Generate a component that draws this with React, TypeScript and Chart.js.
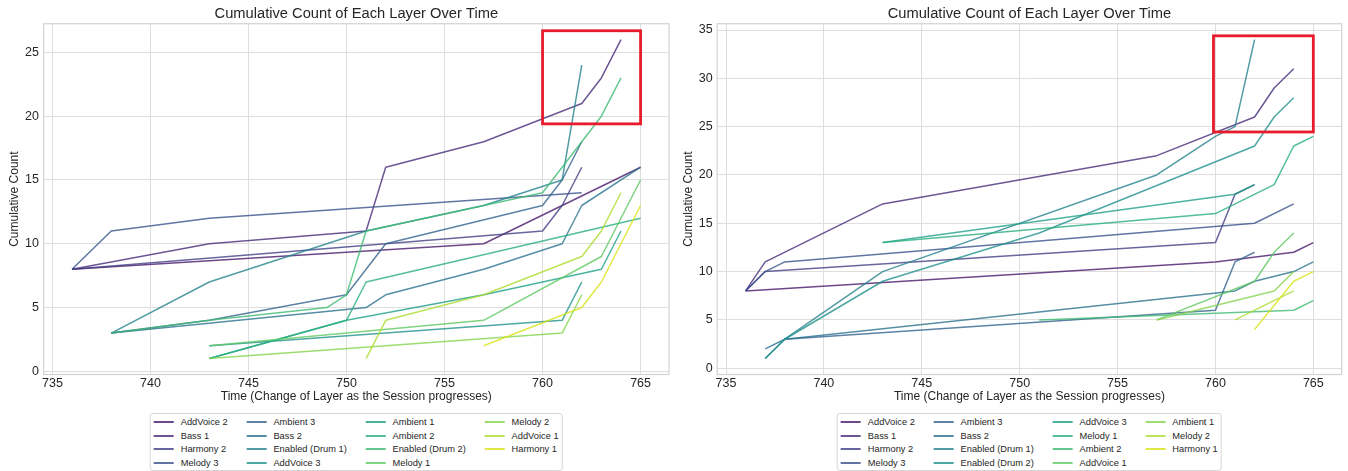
import React, { useEffect, useRef } from "react";
import { Chart, registerables } from "chart.js";

Chart.register(...registerables);

// ---------- text ----------
const TITLE = "Cumulative Count of Each Layer Over Time";
const X_LABEL = "Time (Change of Layer as the Session progresses)";
const Y_LABEL = "Cumulative Count";

// ---------- ticks ----------
const X_TICKS = [735, 740, 745, 750, 755, 760, 765];
const Y_TICKS_LEFT = [0, 5, 10, 15, 20, 25];
const Y_TICKS_RIGHT = [0, 5, 10, 15, 20, 25, 30, 35];

// ---------- left chart: layers (legend order) ----------
const LAYERS_LEFT = [
  "AddVoice 2", "Bass 1", "Harmony 2", "Melody 3",
  "Ambient 3", "Bass 2", "Enabled (Drum 1)", "AddVoice 3",
  "Ambient 1", "Ambient 2", "Enabled (Drum 2)", "Melody 1",
  "Melody 2", "AddVoice 1", "Harmony 1",
];

// [time, cumulative count]
const L_ADDVOICE_2 = [[736, 8], [757, 10], [765, 16]];
const L_BASS_1 = [[736, 8], [743, 10], [751, 11], [752, 16], [757, 18], [762, 21], [763, 23], [764, 26]];
const L_HARMONY_2 = [[736, 8], [760, 11], [761, 13], [762, 16]];
const L_MELODY_3 = [[736, 8], [738, 11], [743, 12], [762, 14]];
const L_AMBIENT_3 = [[738, 3], [743, 4], [750, 6], [752, 10], [760, 13], [761, 15], [762, 18]];
const L_BASS_2 = [[738, 3], [751, 5], [752, 6], [757, 8], [761, 10], [762, 13], [765, 16]];
const L_DRUM_1 = [[738, 3], [743, 7], [751, 11], [757, 13], [761, 15], [762, 24]];
const L_ADDVOICE_3 = [[743, 2], [761, 4], [762, 7]];
const L_AMBIENT_1 = [[743, 1], [750, 4], [757, 6], [763, 8], [764, 11]];
const L_AMBIENT_2 = [[743, 1], [750, 4], [751, 7], [765, 12]];
const L_DRUM_2 = [[738, 3], [743, 4], [749, 5], [750, 6], [751, 11], [757, 13], [760, 14], [762, 18], [763, 20], [764, 23]];
const L_MELODY_1 = [[743, 2], [757, 4], [763, 9], [765, 15]];
const L_MELODY_2 = [[743, 1], [761, 3], [762, 6]];
const L_ADDVOICE_1 = [[751, 1], [752, 4], [757, 6], [762, 9], [763, 11], [764, 14]];
const L_HARMONY_1 = [[757, 2], [762, 5], [763, 7], [765, 13]];

const SERIES_LEFT = [
  L_ADDVOICE_2, L_BASS_1, L_HARMONY_2, L_MELODY_3,
  L_AMBIENT_3, L_BASS_2, L_DRUM_1, L_ADDVOICE_3,
  L_AMBIENT_1, L_AMBIENT_2, L_DRUM_2, L_MELODY_1,
  L_MELODY_2, L_ADDVOICE_1, L_HARMONY_1,
];

// ---------- right chart: layers (legend order) ----------
const LAYERS_RIGHT = [
  "AddVoice 2", "Bass 1", "Harmony 2", "Melody 3",
  "Ambient 3", "Bass 2", "Enabled (Drum 1)", "Enabled (Drum 2)",
  "AddVoice 3", "Melody 1", "Ambient 2", "AddVoice 1",
  "Ambient 1", "Melody 2", "Harmony 1",
];

const R_ADDVOICE_2 = [[736, 8], [760, 11], [764, 12], [765, 13]];
const R_BASS_1 = [[736, 8], [737, 11], [743, 17], [757, 22], [762, 26], [763, 29], [764, 31]];
const R_HARMONY_2 = [[736, 8], [737, 10], [760, 13], [761, 18], [762, 19]];
const R_MELODY_3 = [[736, 8], [737, 10], [738, 11], [762, 15], [764, 17]];
const R_AMBIENT_3 = [[738, 3], [760, 6], [761, 11], [762, 12]];
const R_BASS_2 = [[737, 2], [738, 3], [761, 8], [762, 9], [764, 10], [765, 11]];
const R_DRUM_1 = [[737, 1], [738, 3], [743, 10], [757, 20], [760, 24], [761, 25], [762, 34]];
const R_DRUM_2 = [[737, 1], [738, 3], [743, 9], [751, 14], [762, 23], [763, 26], [764, 28]];
const R_ADDVOICE_3 = [[743, 13], [761, 18], [762, 19]];
const R_MELODY_1 = [[743, 13], [760, 16], [763, 19], [764, 23], [765, 24]];
const R_AMBIENT_2 = [[751, 5], [764, 6], [765, 7]];
const R_ADDVOICE_1 = [[757, 5], [762, 9], [763, 12], [764, 14]];
const R_AMBIENT_1 = [[757, 5], [763, 8], [764, 10]];
const R_MELODY_2 = [[761, 5], [764, 8]];
const R_HARMONY_1 = [[762, 4], [764, 9], [765, 10]];

const SERIES_RIGHT = [
  R_ADDVOICE_2, R_BASS_1, R_HARMONY_2, R_MELODY_3,
  R_AMBIENT_3, R_BASS_2, R_DRUM_1, R_DRUM_2,
  R_ADDVOICE_3, R_MELODY_1, R_AMBIENT_2, R_ADDVOICE_1,
  R_AMBIENT_1, R_MELODY_2, R_HARMONY_1,
];

// highlight boxes [xMin, xMax, yMin, yMax] in data units
const HIGHLIGHT_LEFT = [760, 765, 19.4, 26.7];
const HIGHLIGHT_RIGHT = [759.9, 765, 24.45, 34.4];

// ---------- styles ----------
const VIRIDIS_15 = [
  "72,26,108", "71,45,123", "66,64,134", "59,82,139", "51,99,141",
  "44,114,142", "38,130,142", "33,145,140", "31,160,136", "40,174,128",
  "63,188,115", "94,201,98", "132,212,75", "173,220,48", "216,226,25",
];
const LINE_ALPHA = 0.8;
const FONT = '"Liberation Sans", Arial, Helvetica, sans-serif';
const TEXT = "#262626";
const GRID = "#dedede";
const FRAME = "#d4d4d4";
const RED = "rgb(230, 28, 45)";

function extent(series: number[][][], k: number) {
  let lo = Infinity, hi = -Infinity;
  series.forEach((s) => s.forEach((p) => { lo = Math.min(lo, p[k]); hi = Math.max(hi, p[k]); }));
  const m = (hi - lo) * 0.05;
  return [lo - m, hi + m];
}

const framePlugin = {
  id: "frame",
  beforeDatasetsDraw(chart: any) {
    const { ctx, chartArea: a } = chart;
    ctx.save();
    ctx.strokeStyle = FRAME;
    ctx.lineWidth = 1.25;
    ctx.strokeRect(a.left, a.top, a.right - a.left, a.bottom - a.top);
    ctx.restore();
  },
};

const highlightPlugin = {
  id: "highlight",
  afterDatasetsDraw(chart: any, _args: any, opts: any) {
    const box = opts && opts.box;
    if (!box) return;
    const xs = chart.scales.x, ys = chart.scales.y;
    const x0 = xs.getPixelForValue(box[0]), x1 = xs.getPixelForValue(box[1]);
    const y0 = ys.getPixelForValue(box[3]), y1 = ys.getPixelForValue(box[2]);
    const ctx = chart.ctx;
    ctx.save();
    ctx.strokeStyle = RED;
    ctx.lineWidth = 2.8;
    ctx.lineJoin = "miter";
    ctx.strokeRect(x0, y0, x1 - x0, y1 - y0);
    ctx.restore();
  },
};

type PanelProps = {
  left: number;
  labels: string[];
  series: number[][][];
  yTicks: number[];
  box: number[];
  yAxisWidth: number;
  padRight: number;
};

const CANVAS_W = 674;
const CANVAS_H = 412;

function Panel({ left, labels, series, yTicks, box, yAxisWidth, padRight }: PanelProps) {
  const ref = useRef<HTMLCanvasElement | null>(null);

  useEffect(() => {
    if (!ref.current) return;
    const [xMin, xMax] = extent(series, 0);
    const [yMin, yMax] = extent(series, 1);
    const n = series.length;
    const datasets = series.map((s, i) => ({
      label: labels[i],
      data: s.map((p) => ({ x: p[0], y: p[1] })),
      borderColor: `rgba(${VIRIDIS_15[i]},${LINE_ALPHA})`,
      backgroundColor: `rgba(${VIRIDIS_15[i]},${LINE_ALPHA})`,
      borderWidth: 1.5,
      pointRadius: 0,
      tension: 0,
      fill: false,
      borderJoinStyle: "round" as const,
      order: n - i,
    }));
    const tickFont = { family: FONT, size: 12.5 };
    const chart = new Chart(ref.current, {
      type: "line",
      data: { datasets },
      plugins: [framePlugin, highlightPlugin],
      options: {
        responsive: false,
        animation: false,
        devicePixelRatio: 1,
        layout: { padding: { left: 0, right: padRight, top: 0, bottom: 0 } },
        plugins: {
          legend: { display: false },
          tooltip: { enabled: false },
          title: {
            display: true,
            text: TITLE,
            fullSize: false,
            color: TEXT,
            font: { family: FONT, size: 14.7, weight: "normal", lineHeight: 1.2 },
            padding: { top: 5.2, bottom: 0.9 },
          },
          highlight: { box },
        } as any,
        scales: {
          x: {
            type: "linear",
            min: xMin,
            max: xMax,
            afterBuildTicks: (ax: any) => { ax.ticks = X_TICKS.map((v) => ({ value: v })); },
            afterFit: (s: any) => { s.height = 37.5; },
            grid: { color: GRID, lineWidth: 1, drawTicks: false },
            border: { display: false },
            ticks: {
              autoSkip: false, maxRotation: 0, padding: 1.2, color: TEXT, font: tickFont,
              callback: (v: any) => String(v),
            },
            title: {
              display: true, text: X_LABEL, color: TEXT,
              font: { family: FONT, size: 12, lineHeight: 1.2 },
              padding: { top: 0, bottom: 8.1 },
            },
          },
          y: {
            type: "linear",
            min: yMin,
            max: yMax,
            afterBuildTicks: (ax: any) => { ax.ticks = yTicks.map((v) => ({ value: v })); },
            afterFit: (s: any) => { s.width = yAxisWidth; },
            grid: { color: GRID, lineWidth: 1, drawTicks: false },
            border: { display: false },
            ticks: {
              autoSkip: false, padding: 4.6, color: TEXT, font: tickFont,
              callback: (v: any) => String(v),
            },
            title: {
              display: true, text: Y_LABEL, color: TEXT,
              font: { family: FONT, size: 12, lineHeight: 1.2 },
              padding: { top: 7.8, bottom: 0 },
            },
          },
        },
      } as any,
    });
    return () => chart.destroy();
  }, [labels, series, yTicks, box, yAxisWidth, padRight]);

  const plotCenter = left + yAxisWidth + (CANVAS_W - yAxisWidth - padRight) / 2;

  return (
    <>
      <canvas
        ref={ref}
        width={CANVAS_W}
        height={CANVAS_H}
        style={{ position: "absolute", left, top: 0, width: CANVAS_W, height: CANVAS_H }}
      />
      <div
        style={{
          position: "absolute",
          left: plotCenter,
          top: 413,
          transform: "translateX(-50%)",
          border: "1px solid #d6d6d6",
          borderRadius: 3,
          background: "#fff",
          padding: "1.2px 3px 0.8px 3px",
          display: "grid",
          gridTemplateRows: "repeat(4, 13.57px)",
          gridAutoFlow: "column",
          columnGap: 19,
          fontFamily: FONT,
          fontSize: 9.3,
          color: TEXT,
          whiteSpace: "nowrap",
        }}
      >
        {labels.map((lab, i) => (
          <div key={lab} style={{ display: "flex", alignItems: "center", height: 13.57 }}>
            <div
              style={{
                width: 20,
                height: 2,
                flex: "0 0 20px",
                background: `rgba(${VIRIDIS_15[i]},${LINE_ALPHA})`,
                marginRight: 6.7,
              }}
            />
            <span>{lab}</span>
          </div>
        ))}
      </div>
    </>
  );
}

export default function App() {
  return (
    <div style={{ position: "absolute", left: 0, top: 0, width: 1348, height: 471, background: "#fff", overflow: "hidden" }}>
      <Panel
        left={0}
        labels={LAYERS_LEFT}
        series={SERIES_LEFT}
        yTicks={Y_TICKS_LEFT}
        box={HIGHLIGHT_LEFT}
        yAxisWidth={43.6}
        padRight={5}
      />
      <Panel
        left={674}
        labels={LAYERS_RIGHT}
        series={SERIES_RIGHT}
        yTicks={Y_TICKS_RIGHT}
        box={HIGHLIGHT_RIGHT}
        yAxisWidth={43.2}
        padRight={6.3}
      />
    </div>
  );
}
